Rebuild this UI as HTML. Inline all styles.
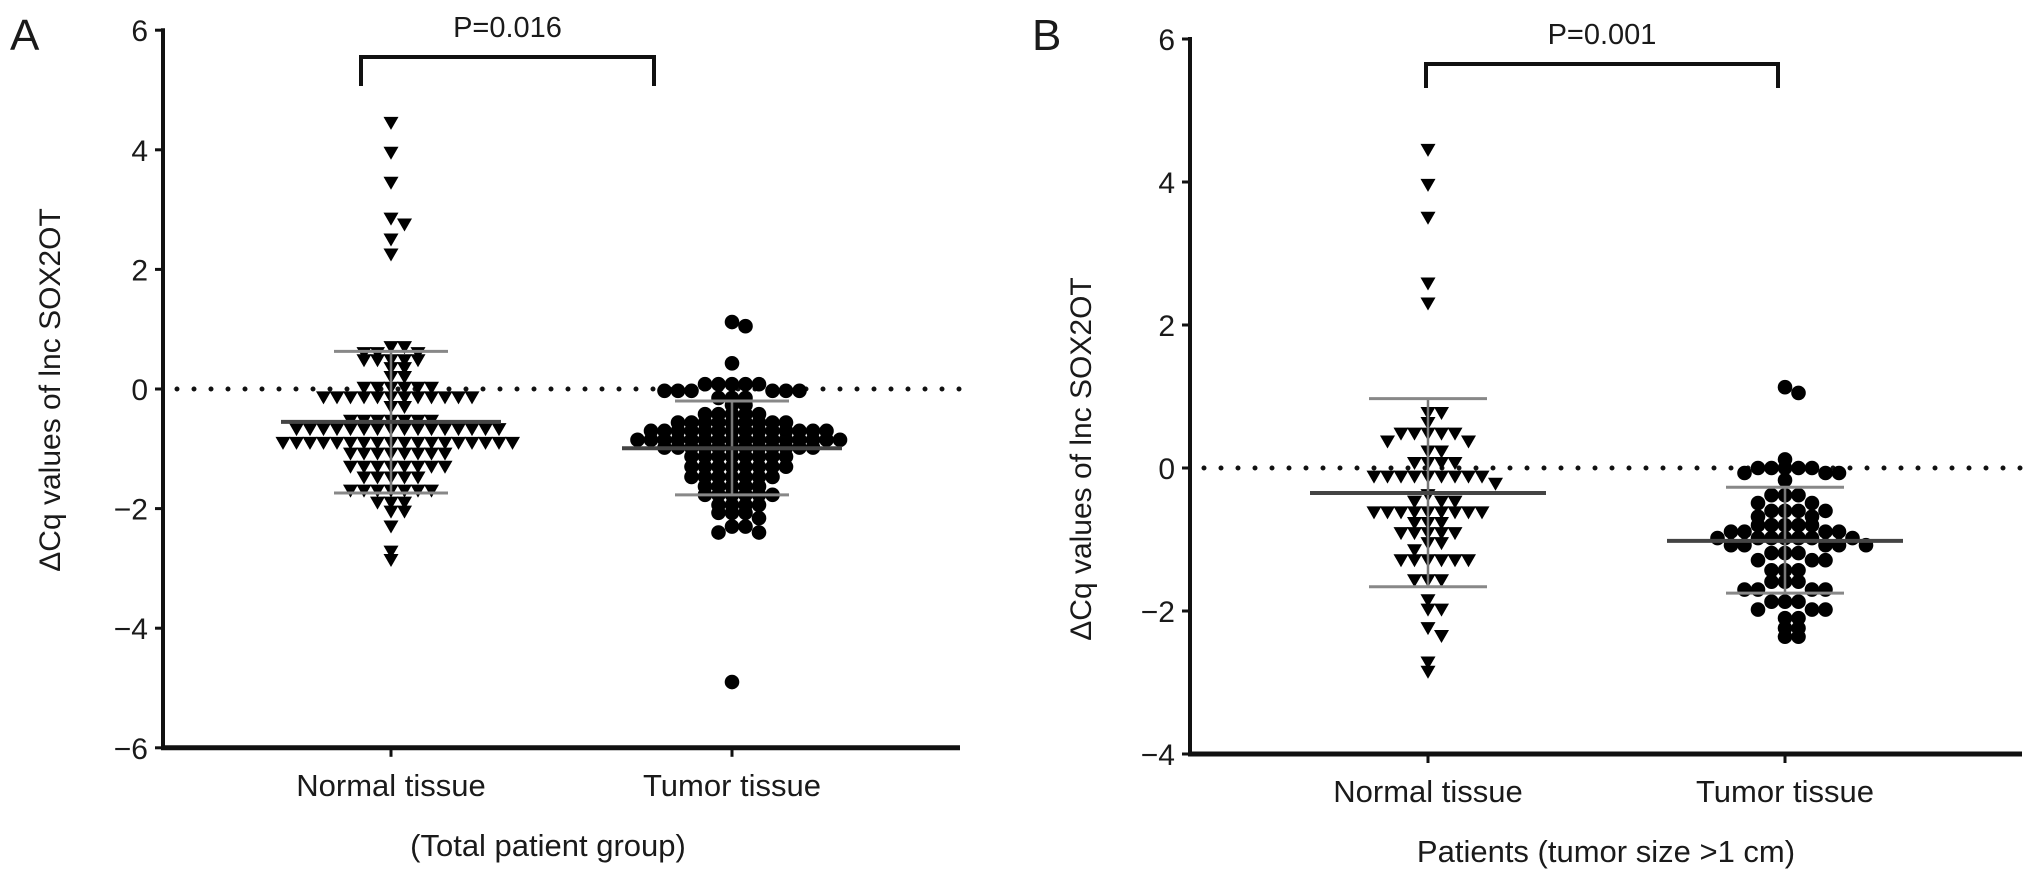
<!DOCTYPE html>
<html><head><meta charset="utf-8"><style>
html,body{margin:0;padding:0;background:#fff}
svg{display:block}
text{font-family:"Liberation Sans",Arial,sans-serif;fill:#1a1a1a}
</style></head><body>
<svg id="chart" width="2032" height="871" viewBox="0 0 2032 871">
<text x="10" y="50" font-size="44">A</text>
<text x="1032" y="50" font-size="44">B</text>
<g id="pa"></g>
<g id="pb"></g>
</svg>
<script>
// Panel A data
const categoriesA = ["Normal tissue", "Tumor tissue"];
const normalA = [4.45,3.95,3.45,2.85,2.75,2.5,2.25,
0.7,0.7,0.6,0.6,0.6,0.48,0.48,0.48,0.48,0.48,0.35,0.35,0.2,0.2,
0.02,0.02,0.02,0.02,0.02,0.02,
-0.14,-0.14,-0.14,-0.14,-0.14,-0.14,-0.14,-0.14,-0.14,-0.14,-0.14,-0.14,
-0.3,-0.3,
-0.53,-0.53,-0.53,-0.53,-0.53,-0.53,-0.53,
-0.67,-0.67,-0.67,-0.67,-0.67,-0.67,-0.67,-0.67,-0.67,-0.67,-0.67,-0.67,-0.67,-0.67,-0.67,-0.67,
-0.9,-0.9,-0.9,-0.9,-0.9,-0.9,-0.9,-0.9,-0.9,-0.9,-0.9,-0.9,-0.9,-0.9,-0.9,-0.9,-0.9,-0.9,
-1.08,-1.08,-1.08,-1.08,-1.08,-1.08,-1.08,-1.08,
-1.3,-1.3,-1.3,-1.3,-1.3,-1.3,-1.3,-1.3,
-1.48,-1.48,-1.48,-1.48,-1.48,
-1.7,-1.7,-1.7,-1.7,-1.7,-1.7,-1.7,
-1.9,-1.9,-1.9,-2.05,-2.05,-2.3,-2.72,-2.86];
const tumorA = [1.12,1.05,0.43,
0.08,0.08,0.08,0.08,0.08,-0.03,-0.03,-0.03,-0.03,-0.03,-0.03,
-0.15,-0.15,-0.15,-0.27,-0.27,
-0.42,-0.42,-0.42,-0.42,-0.42,
-0.56,-0.56,-0.56,-0.56,-0.56,-0.56,-0.56,-0.56,-0.56,
-0.7,-0.7,-0.7,-0.7,-0.7,-0.7,-0.7,-0.7,-0.7,-0.7,-0.7,-0.7,-0.7,-0.7,
-0.85,-0.85,-0.85,-0.85,-0.85,-0.85,-0.85,-0.85,-0.85,-0.85,-0.85,-0.85,-0.85,-0.85,-0.85,-0.85,
-0.98,-0.98,-0.98,-0.98,-0.98,-0.98,-0.98,-0.98,-0.98,-0.98,-0.98,-0.98,
-1.13,-1.13,-1.13,-1.13,-1.13,-1.13,-1.13,-1.13,
-1.3,-1.3,-1.3,-1.3,-1.3,-1.3,-1.3,-1.3,
-1.47,-1.47,-1.47,-1.47,-1.47,-1.47,-1.47,
-1.63,-1.63,-1.63,-1.63,-1.63,
-1.77,-1.77,-1.77,-1.77,-1.77,-1.77,
-1.94,-1.94,-1.94,-1.94,-2.07,-2.07,-2.07,-2.16,-2.3,-2.3,-2.4,-2.4,-4.9];
const statsA = [[-0.55,0.63,-1.74],[-0.99,-0.2,-1.77]]; // mean, +SD, -SD
const ticksA = [6,4,2,0,-2,-4,-6];
// Panel B data
const categoriesB = ["Normal tissue", "Tumor tissue"];
const normalB = [4.45,3.96,3.5,2.58,2.3,
0.77,0.77,0.63,0.48,0.48,0.48,0.48,0.48,0.37,0.37,0.23,0.23,
0.07,0.07,0.07,0.07,
-0.12,-0.12,-0.12,-0.12,-0.12,-0.12,-0.12,-0.12,-0.12,
-0.22,-0.38,-0.47,-0.47,-0.47,
-0.62,-0.62,-0.62,-0.62,-0.62,-0.62,-0.62,-0.62,-0.62,
-0.77,-0.77,-0.77,-0.91,-0.91,-0.91,-0.91,-0.91,-1.05,-1.05,-1.15,
-1.29,-1.29,-1.29,-1.29,-1.29,-1.29,-1.57,-1.57,-1.57,
-1.85,-1.98,-1.98,-2.24,-2.35,-2.72,-2.85];
const tumorB = [1.13,1.05,0.12,
0.0,0.0,0.0,0.0,0.0,-0.07,-0.07,-0.07,-0.17,
-0.38,-0.38,-0.38,-0.49,-0.49,-0.6,-0.6,-0.6,-0.6,-0.68,-0.68,
-0.8,-0.8,-0.8,-0.8,-0.8,-0.89,-0.89,-0.89,-0.89,
-0.98,-0.98,-0.98,-0.98,-0.98,-0.98,-0.98,
-1.08,-1.08,-1.08,-1.08,-1.08,-1.19,-1.19,-1.19,-1.29,-1.29,-1.29,
-1.43,-1.43,-1.43,-1.59,-1.59,-1.59,-1.7,-1.7,-1.7,-1.7,
-1.87,-1.87,-1.87,-1.98,-1.98,-1.98,-2.1,-2.1,-2.24,-2.24,-2.36,-2.36];
const statsB = [[-0.35,0.97,-1.66],[-1.02,-0.27,-1.75]];
const ticksB = [6,4,2,0,-2,-4];

const NS = "http://www.w3.org/2000/svg";
function mk(tag, attrs, parent){
  const e = document.createElementNS(NS, tag);
  for (const k in attrs) e.setAttribute(k, attrs[k]);
  parent.appendChild(e); return e;
}
function swarm(vals, yfn, cx, d, h){
  const sorted = vals.map((v,i)=>({v:v,y:yfn(v)})).sort((a,b)=>b.v-a.v);
  const placed = [];
  const offs=[0];
  for(let k=1;k<20;k++){offs.push(k*d);offs.push(-k*d);}
  sorted.forEach(p=>{
    for(const o of offs){
      const x = cx+o;
      if(!placed.some(q=>Math.abs(q.x-x)<d*0.95 && Math.abs(q.y-p.y)<h)){p.x=x;break;}
    }
    placed.push(p);
  });
  return placed;
}
function panel(g, cfg){
  const y = v => cfg.y0 - v*cfg.unit;
  const t = mk('text',{x:cfg.titleX,y:cfg.titleY,'font-size':30,'text-anchor':'middle',transform:`rotate(-90 ${cfg.titleX} ${cfg.titleY})`},g);
  t.textContent = "\u0394Cq values of lnc SOX2OT";
  
  
  const zl = mk('line',{x1:cfg.ax+14,x2:cfg.xEnd,y1:y(0),y2:y(0),stroke:'#111','stroke-width':5,'stroke-dasharray':'0 17','stroke-linecap':'round'},g);
  
  
  const yAxis = mk('line',{x1:cfg.ax,x2:cfg.ax,y1:y(cfg.ticks[0])-2,y2:y(cfg.ticks[cfg.ticks.length-1]),stroke:'#111','stroke-width':4},g);
  
  
  const xAxis = mk('line',{x1:cfg.ax-2,x2:cfg.xEnd,y1:y(cfg.ticks[cfg.ticks.length-1]),y2:y(cfg.ticks[cfg.ticks.length-1]),stroke:'#111','stroke-width':5},g);
  
  
  cfg.ticks.forEach(v=>{
    const tk = mk('line',{x1:cfg.ax-8,x2:cfg.ax,y1:y(v),y2:y(v),stroke:'#111','stroke-width':3},g);
    
    
    const tl = mk('text',{x:cfg.ax-15,y:y(v)+11,'font-size':30,'text-anchor':'end'},g);
    tl.textContent = v<0 ? "\u2212"+Math.abs(v) : String(v);
    
    
  });
  const xb = y(cfg.ticks[cfg.ticks.length-1]);
  cfg.cats.forEach((c,i)=>{
    const cx = cfg.cx[i];
    const tk = mk('line',{x1:cx,x2:cx,y1:xb,y2:xb+9,stroke:'#111','stroke-width':3},g);
    
    
    const tl = mk('text',{x:cx,y:xb+48,'font-size':31,'text-anchor':'middle'},g);
    tl.textContent = c;
    
    
  });
  const sub = mk('text',{x:cfg.subX,y:xb+108,'font-size':31,'text-anchor':'middle'},g);
  sub.textContent = cfg.sub;
  
  
  const br = mk('path',{d:`M${cfg.br[0]},${cfg.brY2} V${cfg.brY1} H${cfg.br[1]} V${cfg.brY2}`,fill:'none',stroke:'#111','stroke-width':4},g);
  
  
  const pt = mk('text',{x:(cfg.br[0]+cfg.br[1])/2,y:cfg.brY1-20,'font-size':29,'text-anchor':'middle'},g);
  pt.textContent = cfg.p;
  
  
  [cfg.s0, cfg.s1].forEach((vals,i)=>{
    const pts = swarm(vals, y, cfg.cx[i], 13.5, cfg.h);
    pts.forEach(p=>{
      let m;
      if(i===0){
        m = mk('path',{d:`M${p.x-7.5},${p.y-6} L${p.x+7.5},${p.y-6} L${p.x},${p.y+7} Z`,fill:'#000'},g);
        
      } else {
        m = mk('circle',{cx:p.x,cy:p.y,r:7.3,fill:'#000'},g);
        
      }
      
    });
  });
  cfg.stats.forEach((s,i)=>{
    const cx = cfg.cx[i];
    const v = mk('line',{x1:cx,x2:cx,y1:y(s[1]),y2:y(s[2]),stroke:'#777','stroke-width':2.5},g);
    
    
    [s[1],s[2]].forEach(val=>{
      const c = mk('line',{x1:cx-cfg.capW,x2:cx+cfg.capW,y1:y(val),y2:y(val),stroke:'#888','stroke-width':3},g);
      
      
    });
    const m = mk('line',{x1:cx-cfg.meanW,x2:cx+cfg.meanW,y1:y(s[0]),y2:y(s[0]),stroke:'#444','stroke-width':4},g);
    
    
  });
}
panel(document.getElementById('pa'),{
  y0:389, unit:59.8, ax:163, xEnd:960, ticks:ticksA, cats:categoriesA, cx:[391,732], h:7,
  s0:normalA, s1:tumorA, stats:statsA, titleX:60, titleY:390, subX:548,
  sub:"(Total patient group)", br:[361,654], brY1:57, brY2:86, p:"P=0.016", capW:57, meanW:110
});
panel(document.getElementById('pb'),{
  y0:468, unit:71.5, ax:1190, xEnd:2022, ticks:ticksB, cats:categoriesB, cx:[1428,1785], h:8.5,
  s0:normalB, s1:tumorB, stats:statsB, titleX:1091, titleY:459, subX:1606,
  sub:"Patients (tumor size >1 cm)", br:[1426,1778], brY1:64, brY2:88, p:"P=0.001", capW:59, meanW:118
});
</script>
</body></html>
